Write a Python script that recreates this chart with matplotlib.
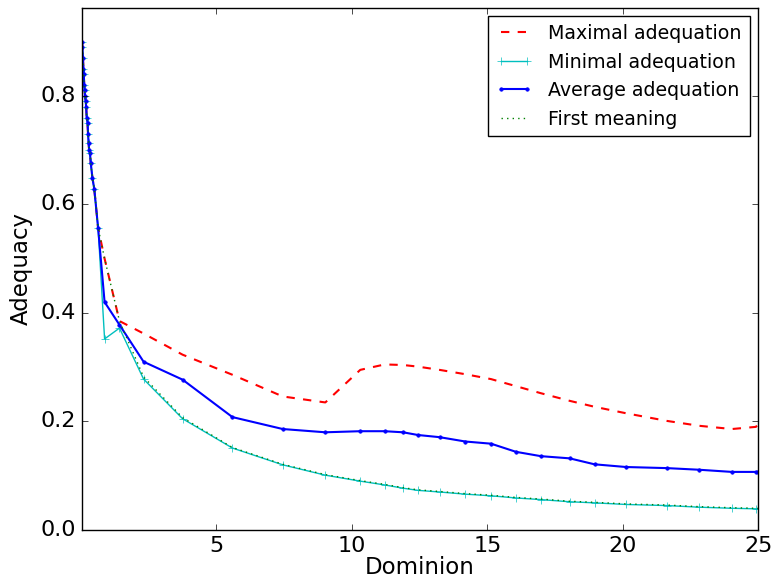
import numpy as np
import matplotlib
matplotlib.use("Agg")
import matplotlib.pyplot as plt

plt.style.use('classic')

# dominion values (x axis)
dominion = [0.03, 0.05, 0.07, 0.09, 0.10, 0.12, 0.13, 0.15, 0.17, 0.19,
            0.21, 0.24, 0.26, 0.28, 0.30, 0.33, 0.36, 0.42, 0.49, 0.63,
            0.87, 1.42, 2.31, 3.75, 5.59, 7.45, 9.02, 10.31, 11.21, 11.89,
            12.44, 13.24, 14.19, 15.14, 16.06, 16.98, 18.04, 18.96, 20.13, 21.63,
            22.82, 24.03, 24.92, 25.0]

# the first points are shared by all the curves
head = [0.90, 0.89, 0.87, 0.85, 0.84, 0.82, 0.81, 0.80, 0.79, 0.78,
        0.76, 0.75, 0.73, 0.713, 0.70, 0.695, 0.676, 0.649, 0.628, 0.557]

max_adeq = head + [0.50, 0.385, 0.362, 0.323, 0.286, 0.246, 0.235, 0.295, 0.305, 0.304,
                   0.301, 0.295, 0.287, 0.278, 0.265, 0.252, 0.238, 0.227, 0.215, 0.201,
                   0.192, 0.186, 0.19, 0.195]
min_adeq = head + [0.352, 0.372, 0.278, 0.205, 0.151, 0.120, 0.101, 0.090, 0.083, 0.077,
                   0.073, 0.070, 0.066, 0.063, 0.059, 0.056, 0.052, 0.050, 0.047, 0.045,
                   0.042, 0.040, 0.039, 0.039]
avg_adeq = head + [0.42, 0.378, 0.31, 0.277, 0.208, 0.186, 0.180, 0.182, 0.182, 0.180,
                   0.175, 0.171, 0.163, 0.159, 0.144, 0.136, 0.132, 0.121, 0.116, 0.114,
                   0.111, 0.107, 0.107, 0.107]
first_meaning = head + [0.50, 0.385, 0.282, 0.207, 0.152, 0.121, 0.102, 0.091, 0.084, 0.078,
                        0.074, 0.071, 0.067, 0.064, 0.060, 0.057, 0.053, 0.051, 0.048, 0.046,
                        0.043, 0.041, 0.040, 0.040]

fig = plt.figure(figsize=(7.72, 5.84), dpi=100, facecolor='white')
ax = fig.add_axes([0.106, 0.0925, 0.876, 0.894])

ax.plot(dominion, max_adeq, 'r--', lw=1.5, label='Maximal adequation')
ax.plot(dominion, min_adeq, 'c-+', lw=1, ms=6, label='Minimal adequation')
ax.plot(dominion, avg_adeq, 'b.-', lw=1.5, ms=5, label='Average adequation')
ax.plot(dominion, first_meaning, 'g:', lw=1, label='First meaning')

ax.set_xlim(dominion[0], 25)
ax.set_ylim(0, 0.962)
ax.set_xticks([5, 10, 15, 20, 25])
ax.set_yticks([0.0, 0.2, 0.4, 0.6, 0.8])
ax.tick_params(labelsize=16)
ax.set_xlabel('Dominion', fontsize=16.5, labelpad=0)
ax.set_ylabel('Adequacy', fontsize=16.5, labelpad=6)

ax.legend(loc='upper right', fontsize=13.7, numpoints=2, handlelength=2,
          borderaxespad=0.45, labelspacing=0.5)

plt.savefig('out.png', dpi=100, facecolor='white')
